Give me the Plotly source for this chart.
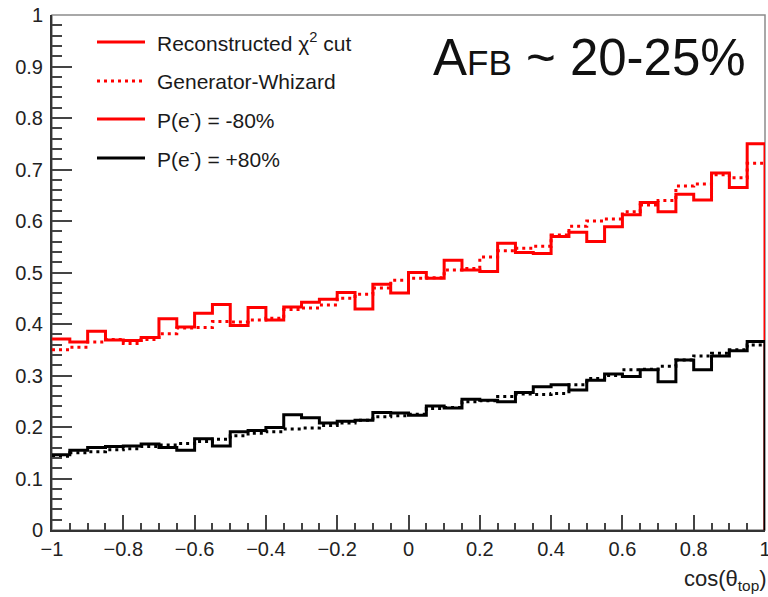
import numpy as np
import plotly.graph_objects as go

# cos(theta_top) binning: 40 bins over [-1, 1]
bin_edges = np.linspace(-1.0, 1.0, 41)

# P(e-) = -80%  (red)
reco_m80 = [0.371, 0.365, 0.386, 0.369, 0.368, 0.374, 0.410, 0.394, 0.421, 0.438,
            0.397, 0.432, 0.408, 0.433, 0.442, 0.448, 0.461, 0.429, 0.477, 0.460,
            0.500, 0.489, 0.524, 0.505, 0.502, 0.557, 0.539, 0.537, 0.570, 0.578,
            0.560, 0.589, 0.612, 0.636, 0.618, 0.652, 0.641, 0.693, 0.665, 0.750]
gen_m80 = [0.350, 0.355, 0.365, 0.370, 0.362, 0.370, 0.381, 0.392, 0.393, 0.405,
           0.404, 0.408, 0.411, 0.428, 0.431, 0.437, 0.450, 0.458, 0.470, 0.485,
           0.489, 0.490, 0.505, 0.508, 0.530, 0.542, 0.547, 0.551, 0.573, 0.590,
           0.600, 0.604, 0.618, 0.631, 0.640, 0.668, 0.672, 0.690, 0.684, 0.712]

# P(e-) = +80%  (black)
reco_p80 = [0.146, 0.155, 0.160, 0.162, 0.163, 0.167, 0.160, 0.155, 0.177, 0.163,
            0.191, 0.193, 0.199, 0.224, 0.218, 0.208, 0.211, 0.213, 0.228, 0.227,
            0.223, 0.241, 0.237, 0.254, 0.252, 0.249, 0.267, 0.278, 0.282, 0.272,
            0.291, 0.303, 0.298, 0.311, 0.288, 0.330, 0.311, 0.338, 0.348, 0.366]
gen_p80 = [0.143, 0.150, 0.152, 0.156, 0.158, 0.162, 0.165, 0.168, 0.172, 0.176,
           0.183, 0.188, 0.191, 0.196, 0.198, 0.203, 0.208, 0.213, 0.220, 0.222,
           0.225, 0.236, 0.238, 0.249, 0.251, 0.259, 0.264, 0.263, 0.265, 0.282,
           0.294, 0.300, 0.311, 0.312, 0.318, 0.330, 0.338, 0.343, 0.350, 0.359]

legend_labels = ["Reconstructed χ<sup>2</sup> cut", "Generator-Whizard",
                 "P(e<sup>-</sup>) = -80%", "P(e<sup>-</sup>) = +80%"]
title_text = 'A<span style="font-size:35px">FB</span> ~ 20-25%'
x_title = "cos(θ<sub>top</sub>)"

FONT = "Liberation Sans, Arial, Helvetica, sans-serif"
RED = "#ff0000"
BLACK = "#000000"


def step_xy(values, close=True):
    """Histogram outline: step through bin edges, dropping to zero at the upper end."""
    xs = list(bin_edges) + [bin_edges[-1]]
    ys = list(values) + [values[-1]]
    if close:
        xs = xs + [bin_edges[-1]]
        ys = ys + [0.0]
    return xs, ys


fig = go.Figure()

for vals, color, dash, close in [
    (reco_m80, RED, "solid", True),
    (gen_m80, RED, "3px,4px", False),
    (reco_p80, BLACK, "solid", True),
    (gen_p80, BLACK, "3px,4px", False),
]:
    xs, ys = step_xy(vals, close)
    fig.add_trace(go.Scatter(
        x=xs, y=ys, mode="lines", line_shape="hv",
        line=dict(color=color, width=3, dash=dash),
        showlegend=False, hoverinfo="skip",
    ))

W, H = 768, 597
ML, MR, MT, MB = 52, 3, 15, 67
PW, PH = W - ML - MR, H - MT - MB


def px_x(p):
    return (p - ML) / PW


def px_y(p):
    return (MT + PH - p) / PH


shapes = [
    # frame
    dict(type="rect", xref="paper", yref="paper", x0=0, y0=0, x1=1, y1=1,
         line=dict(color="#8c8c8c", width=1.5), layer="below"),
]
annotations = []

# legend block
legend_styles = [(RED, "solid"), (RED, "dot"), (RED, "solid"), (BLACK, "solid")]
legend_rows = [42, 81, 119, 158]
for (color, dash), row, label in zip(legend_styles, legend_rows, legend_labels):
    shapes.append(dict(type="line", xref="paper", yref="paper",
                       x0=px_x(97), x1=px_x(145), y0=px_y(row), y1=px_y(row),
                       line=dict(color=color, width=3,
                                 dash="3px,4px" if dash == "dot" else "solid")))
    annotations.append(dict(xref="paper", yref="paper", x=px_x(155), y=px_y(row),
                            xanchor="left", yanchor="middle", showarrow=False,
                            text=label, font=dict(family=FONT, size=21, color="#1a1a1a")))

annotations.append(dict(xref="paper", yref="paper", x=px_x(431), y=px_y(57),
                        xanchor="left", yanchor="middle", showarrow=False,
                        text=title_text, font=dict(family=FONT, size=51, color="#111111")))

annotations.append(dict(xref="paper", yref="paper", x=px_x(769), y=px_y(580),
                        xanchor="right", yanchor="middle", showarrow=False,
                        text=x_title, font=dict(family=FONT, size=22, color="#222222")))

fig.update_layout(
    width=W, height=H,
    margin=dict(l=ML, r=MR, t=MT, b=MB, pad=0, autoexpand=False),
    paper_bgcolor="white", plot_bgcolor="white",
    shapes=shapes, annotations=annotations,
    font=dict(family=FONT, size=20, color="#222222"),
)

fig.update_xaxes(
    range=[-1, 1], dtick=0.2, tick0=-1, showgrid=False, zeroline=False,
    showline=True, linecolor="#333333", linewidth=2, automargin=False,
    ticks="inside", ticklen=15, tickwidth=2, tickcolor="#444444",
    minor=dict(dtick=0.05, tick0=-1, ticks="inside", ticklen=7, tickwidth=2, tickcolor="#444444"),
    tickfont=dict(family=FONT, size=20, color="#222222"),
    ticklabeloverflow="allow",
)
fig.update_yaxes(
    range=[0, 1], dtick=0.1, tick0=0, showgrid=False, zeroline=False,
    showline=True, linecolor="#333333", linewidth=2, automargin=False,
    ticks="inside", ticklen=20, tickwidth=2, tickcolor="#444444",
    minor=dict(dtick=0.02, tick0=0, ticks="inside", ticklen=10, tickwidth=2, tickcolor="#444444"),
    tickfont=dict(family=FONT, size=20, color="#222222"),
    ticklabelstandoff=3,
)

fig.write_html("out.html")
